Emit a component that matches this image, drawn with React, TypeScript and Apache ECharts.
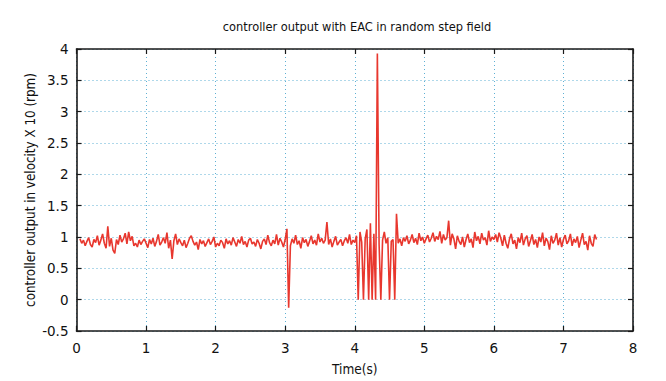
import React, { useEffect, useRef } from "react";
import * as echarts from "echarts";

// Sampling grid of the recorded signal (seconds)
const T0 = 0.05;
const DT = 0.025;

// Controller output (velocity x 10, rpm)
const outputValues: number[] = [
  0.97, 0.9, 0.95, 0.86, 0.93, 0.99, 0.88, 0.84, 0.96, 0.91, 1.02, 0.87, 0.95, 1.05, 0.9, 0.82, 1.17, 0.85, 0.98, 0.79,
  0.74, 0.96, 0.88, 1.03, 0.92, 0.97, 1.06, 0.89, 1.08, 0.94, 1.01, 0.86, 0.9, 0.84, 0.95, 0.88, 0.93, 0.97, 0.9, 0.83,
  0.96, 0.89, 0.98, 0.85, 0.93, 1.04, 0.87, 0.92, 0.99, 0.9, 1.07, 0.82, 0.95, 0.65, 0.94, 1.05, 0.88, 0.97, 0.91, 0.86,
  0.95, 0.83, 0.9, 0.98, 1.02, 0.93, 0.87, 0.92, 0.8, 0.96, 0.89, 0.94, 0.85, 0.91, 0.97, 0.88, 0.93, 1.0, 0.84, 0.9,
  0.86, 0.95, 0.91, 0.82, 0.97, 0.89, 0.94, 0.87, 0.99, 0.92, 0.85, 0.96, 0.9, 1.01, 0.88, 0.93, 0.84, 0.95, 0.98, 0.89,
  0.92, 0.85, 0.96, 0.9, 0.81, 0.93, 0.97, 0.88, 1.03, 0.91, 0.86, 0.95, 0.89, 1.04, 0.87, 0.98, 0.92, 0.84, 0.96, 1.13,
  -0.13, 0.86, 0.97, 0.9, 1.03, 0.88, 0.94, 0.82, 0.99, 0.91, 0.96, 0.85, 0.93, 1.02, 0.89, 0.95, 0.87, 1.05, 0.92, 0.98,
  0.9, 0.95, 1.24, 0.88, 0.97, 0.84, 0.93, 1.01, 0.87, 0.92, 0.96, 0.86, 0.94, 0.99, 0.9, 1.04, 0.88, 0.95, 0.91, 1.02,
  0, 1.08, 0.92, 0, 0.97, 1.12, 0, 1.22, 0, 1.05, 0, 3.93, 0.88, 0, 0.95, 1.08, 0.9, 0.99, 0, 0.93,
  0.96, 0, 1.37, 0.9, 0.97, 0.86, 0.99, 0.93, 1.02, 0.89, 0.95, 1.04, 0.91, 0.98, 0.88, 1.06, 0.94, 1.0, 0.9, 0.97,
  1.03, 0.92, 0.98, 1.07, 0.93, 1.01, 0.96, 1.09, 0.9, 1.04, 0.95, 0.99, 1.26, 0.87, 1.05, 0.97, 0.81, 1.02, 0.93, 0.88,
  1.0, 0.84, 0.96, 1.05, 0.91, 0.97, 0.83, 1.08, 0.94, 1.01, 0.89, 1.06, 0.95, 0.99, 0.87, 1.1, 0.93, 1.0, 0.96, 1.04,
  0.92, 1.07, 0.98, 0.86, 1.03, 0.9, 0.82, 0.97, 1.05, 0.89, 0.95, 0.81, 0.99, 0.91, 1.06, 0.87, 0.97, 1.02, 0.85, 0.94,
  1.04, 0.88, 0.96, 0.83, 1.0, 0.92, 1.07, 0.86, 0.98, 0.93, 0.8, 1.02, 0.9, 0.95, 1.06, 0.87, 0.99, 0.84, 0.96, 1.03,
  0.89, 0.94, 1.05, 0.86, 0.97, 0.91, 1.01, 0.83, 0.95, 1.06, 0.88, 0.93, 0.79, 1.02, 0.9, 0.85, 1.04, 0.96,
];

const TITLE = "controller output with EAC in random step field";
const X_NAME = "Time(s)";
const Y_NAME = "controller output in velocity X 10 (rpm)";
const X_MIN = 0, X_MAX = 8, X_STEP = 1;
const Y_MIN = -0.5, Y_MAX = 4, Y_STEP = 0.5;

const FONT = "'DejaVu Sans Condensed', 'DejaVu Sans', sans-serif";
const LABEL_FONT = "'DejaVu Sans', sans-serif";
const GRID_COLOR = "#5fb0d4";
const FRAME_COLOR = "#1a1a1a";
const TEXT_COLOR = "#111";

export default function App() {
  const ref = useRef<HTMLDivElement>(null);
  useEffect(() => {
    if (!ref.current) return;
    const chart = echarts.init(ref.current, null, { renderer: "svg" });
    const data = outputValues.map((v, i) => [+(T0 + i * DT).toFixed(3), v]);
    const frameLine = { show: true, onZero: false, lineStyle: { color: FRAME_COLOR, width: 1.6 } };
    const innerTick = { show: true, inside: true, length: 5, lineStyle: { color: FRAME_COLOR, width: 1.2 } };
    const split = { show: true, lineStyle: { color: GRID_COLOR, type: [1, 3] as any, width: 1 } };
    chart.setOption({
      animation: false,
      backgroundColor: "#ffffff",
      textStyle: { fontFamily: FONT },
      title: {
        text: TITLE,
        left: 352,
        top: 15,
        textAlign: "center",
        textStyle: { fontFamily: FONT, fontSize: 12.7, fontWeight: "normal", color: TEXT_COLOR },
      },
      grid: { left: 76.5, right: 33, top: 49, bottom: 48, containLabel: false },
      xAxis: [
        {
          type: "value", min: X_MIN, max: X_MAX, interval: X_STEP, position: "bottom",
          name: X_NAME, nameLocation: "middle", nameGap: 31, nameMoveOverlap: false,
          nameTextStyle: { fontFamily: FONT, fontSize: 13.5, color: TEXT_COLOR },
          axisLine: frameLine, axisTick: innerTick, splitLine: split,
          axisLabel: { fontFamily: LABEL_FONT, fontSize: 13.5, color: TEXT_COLOR, margin: 10 },
        },
        {
          type: "value", min: X_MIN, max: X_MAX, interval: X_STEP, position: "top",
          axisLine: frameLine, axisTick: innerTick, splitLine: { show: false },
          axisLabel: { show: false },
        },
      ],
      yAxis: [
        {
          type: "value", min: Y_MIN, max: Y_MAX, interval: Y_STEP, position: "left",
          name: Y_NAME, nameLocation: "middle", nameGap: 40, nameMoveOverlap: false,
          nameTextStyle: { fontFamily: FONT, fontSize: 13.3, color: TEXT_COLOR },
          axisLine: frameLine, axisTick: innerTick, splitLine: split,
          axisLabel: { fontFamily: LABEL_FONT, fontSize: 13.5, color: TEXT_COLOR, margin: 8 },
        },
        {
          type: "value", min: Y_MIN, max: Y_MAX, interval: Y_STEP, position: "right",
          axisLine: frameLine, axisTick: innerTick, splitLine: { show: false },
          axisLabel: { show: false },
        },
      ],
      series: [
        {
          type: "line",
          data,
          xAxisIndex: 0,
          yAxisIndex: 0,
          showSymbol: false,
          symbol: "none",
          lineStyle: { color: "#e8372e", width: 1.6 },
        },
      ],
    });
    return () => chart.dispose();
  }, []);
  return (
    <div
      ref={ref}
      style={{ position: "fixed", left: 0, top: 0, width: 666, height: 381 }}
    />
  );
}
